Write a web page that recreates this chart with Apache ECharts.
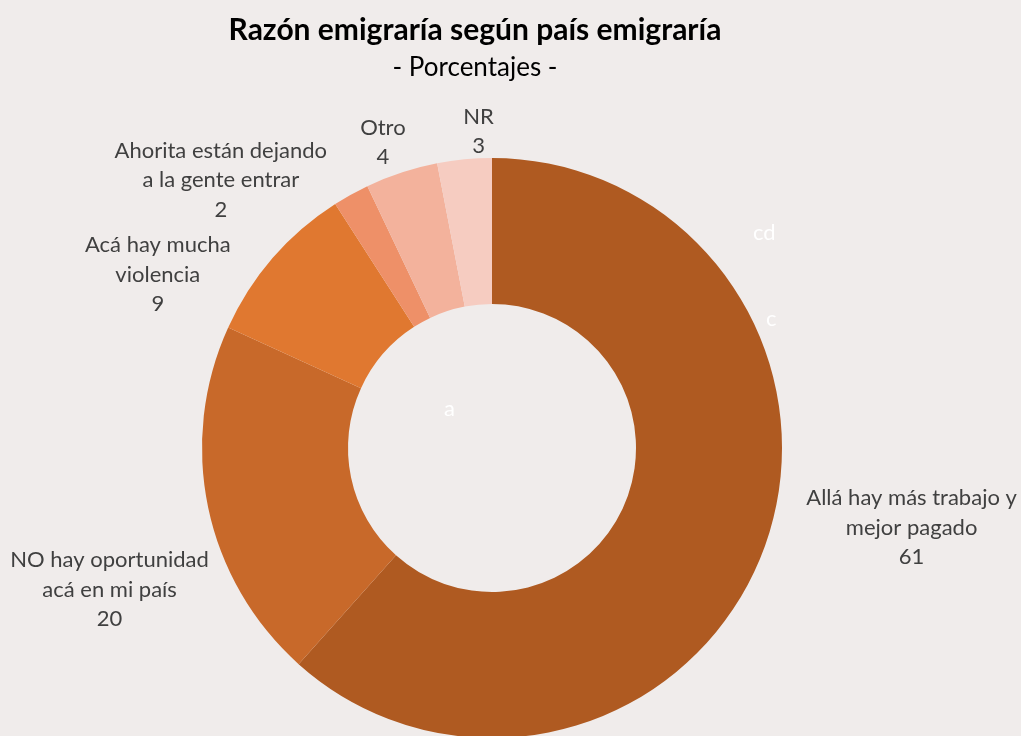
<!DOCTYPE html>
<html>
<head>
<meta charset="utf-8">
<script src="https://cdn.jsdelivr.net/npm/echarts@6/dist/echarts.min.js"></script>
<style>
html,body{margin:0;padding:0;background:#F0ECEB;}
#c{width:1021px;height:736px;}
</style>
</head>
<body>
<div id="c"></div>
<script>
var categories = [
  'Allá hay más trabajo y\nmejor pagado',
  'NO hay oportunidad\nacá en mi país',
  'Acá hay mucha\nviolencia',
  'Ahorita están dejando\na la gente entrar',
  'Otro',
  'NR'
];
var values = [61, 20, 9, 2, 4, 3];
var colors = ['#AF5A21', '#C8692A', '#E07830', '#EE9068', '#F3B29C', '#F6CCC1'];
var labelOffsets = [[-5,-31],[56,78],[95,-92],[117,-96],[208,-58],[151,-8]];

var chart = echarts.init(document.getElementById('c'));
var font = 'Lato, "Open Sans", sans-serif';
chart.setOption({
  backgroundColor: '#F0ECEB',
  title: {
    text: 'Razón emigraría según país emigraría',
    subtext: '- Porcentajes -',
    left: 470,
    top: 10,
    textAlign: 'center',
    itemGap: 10,
    textStyle: {fontFamily: font, fontSize: 30, fontWeight: 'bold', color: '#000'},
    subtextStyle: {fontFamily: font, fontSize: 26, color: '#000'}
  },
  graphic: [
    {type: 'text', left: 753, top: 222, style: {text: 'cd', fill: '#fff', font: '22px ' + font}},
    {type: 'text', left: 766, top: 308, style: {text: 'c', fill: '#fff', font: '22px ' + font}},
    {type: 'text', left: 444, top: 398, style: {text: 'a', fill: '#fff', font: '22px ' + font}}
  ],
  series: [{
    type: 'pie',
    center: [492, 448],
    radius: [144, 290],
    startAngle: 90,
    clockwise: true,
    silent: true,
    animation: false,
    data: categories.map(function (c, i) {
      return {name: c, value: values[i], itemStyle: {color: colors[i]}};
    }),
    label: {
      show: true,
      position: 'outside',
      formatter: '{b}\n{c}',
      fontFamily: font,
      fontSize: 22,
      lineHeight: 29.5,
      color: '#404040',
      width: 260,
      overflow: 'none',
      align: 'center'
    },
    labelLine: {show: false, length: 20, length2: 0},
    labelLayout: function (p) {
      var o = labelOffsets[p.dataIndex];
      var r = p.labelRect;
      return {
        x: r.x + r.width / 2 + o[0],
        y: r.y + r.height / 2 + o[1],
        align: 'center',
        verticalAlign: 'middle'
      };
    }
  }]
});
</script>
</body>
</html>
